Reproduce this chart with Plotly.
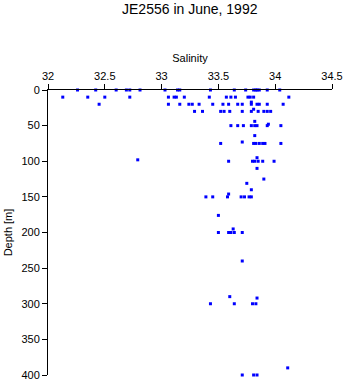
import plotly.graph_objects as go

# Observed samples: depth [m] and salinity
depth_0 = [0]*18
sal_0 = [32.26, 32.42, 32.60, 32.69, 32.72, 32.81, 33.03, 33.14, 33.16, 33.43,
         33.64, 33.74, 33.81, 33.83, 33.86, 33.93, 34.04, 33.84]
depth_10 = [10]*16
sal_10 = [32.13, 32.35, 32.50, 32.72, 33.06, 33.11, 33.13, 33.20, 33.42, 33.57,
          33.61, 33.65, 33.76, 33.78, 33.81, 34.12]
depth_20 = [20]*16 + [17]
sal_20 = [32.45, 33.06, 33.16, 33.24, 33.27, 33.33, 33.45, 33.54, 33.59, 33.67,
          33.71, 33.79, 33.84, 33.86, 33.93, 34.07, 33.79]
depth_30 = [27] + [30]*11
sal_30 = [33.81, 33.29, 33.36, 33.52, 33.55, 33.60, 33.71, 33.79, 33.85, 33.90,
          33.93, 33.96]
depth_50 = [44, 48] + [50]*8
sal_50 = [33.82, 33.94, 33.61, 33.67, 33.72, 33.79, 33.82, 33.84, 33.93, 34.05]
depth_75 = [64, 73] + [75]*7
sal_75 = [33.82, 33.71, 33.52, 33.81, 33.83, 33.86, 33.89, 33.91, 34.05]
depth_100 = [95, 98] + [100]*6 + [110]
sal_100 = [33.84, 32.79, 33.59, 33.80, 33.82, 33.85, 33.89, 33.99, 33.84]
depth_150 = [125, 131, 140, 146] + [150]*7
sal_150 = [33.90, 33.75, 33.79, 33.59, 33.39, 33.45, 33.58, 33.70, 33.73,
           33.77, 33.79]
depth_200 = [176, 195] + [200]*5 + [240]
sal_200 = [33.50, 33.63, 33.50, 33.59, 33.61, 33.64, 33.71, 33.71]
depth_300 = [290, 292] + [300]*4
sal_300 = [33.60, 33.84, 33.43, 33.64, 33.80, 33.83]
depth_400 = [390] + [400]*3
sal_400 = [34.11, 33.71, 33.81, 33.84]

depth = (depth_0 + depth_10 + depth_20 + depth_30 + depth_50 + depth_75 +
         depth_100 + depth_150 + depth_200 + depth_300 + depth_400)
salinity = (sal_0 + sal_10 + sal_20 + sal_30 + sal_50 + sal_75 +
            sal_100 + sal_150 + sal_200 + sal_300 + sal_400)

x_ticks = [32, 32.5, 33, 33.5, 34, 34.5]
x_ticklabels = ["32", "32.5", "33", "33.5", "34", "34.5"]
y_ticks = [0, 50, 100, 150, 200, 250, 300, 350, 400]

fig = go.Figure()
fig.add_trace(go.Scatter(
    x=salinity, y=depth, mode="markers",
    marker=dict(symbol="square", size=3, color="#0000ff", line=dict(width=0)),
    cliponaxis=False, showlegend=False,
))

font = "Liberation Sans, Arial, sans-serif"
fig.update_layout(
    width=346, height=384,
    margin=dict(l=48, r=14, t=90, b=9, autoexpand=False),
    paper_bgcolor="white", plot_bgcolor="white",
    font=dict(family=font, size=11, color="black"),
    title=dict(text="JE2556 in June, 1992", x=0.5484, xanchor="center",
               y=0.989, yanchor="top", font=dict(size=14, family=font)),
    xaxis=dict(
        side="top", range=[32, 34.5], tickvals=x_ticks, ticktext=x_ticklabels,
        showline=True, linecolor="black", linewidth=1, mirror=False,
        ticks="outside", ticklen=5, tickcolor="black", showgrid=False,
        zeroline=False, automargin=False,
        title=dict(text="Salinity", standoff=4, font=dict(size=11)),
    ),
    yaxis=dict(
        range=[400, 0], tickvals=y_ticks,
        showline=True, linecolor="black", linewidth=1,
        ticks="outside", ticklen=5, tickcolor="black", showgrid=False,
        zeroline=False, automargin=False,
        title=dict(text="Depth [m]", standoff=6, font=dict(size=11)),
    ),
)

fig.write_html("out.html")
